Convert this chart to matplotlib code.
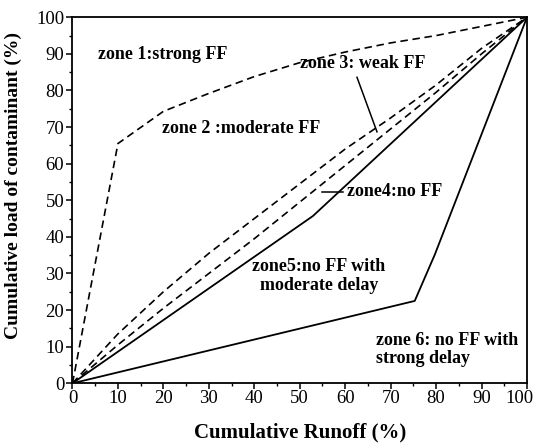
import matplotlib
matplotlib.use("Agg")
import matplotlib.pyplot as plt
from matplotlib.ticker import MultipleLocator
from matplotlib.transforms import ScaledTranslation

plt.rcParams['font.family'] = ['Liberation Serif', 'DejaVu Serif']

# Data
runoff = [0, 10, 20, 30, 40, 50, 60, 70, 80, 90, 100]
strong_ff = [0, 65.5, 74.3, 79.2, 83.8, 87.6, 90.5, 93, 95, 97.5, 100]
weak_ff_upper = [0, 13.5, 25, 35.5, 45, 54.5, 64, 72.5, 81.5, 91.5, 100]
weak_ff_lower = [0, 10.5, 20.5, 30, 39.5, 49.5, 59.5, 69.5, 79.5, 90, 100]
no_ff_x = [0, 52.9, 100]
no_ff_y = [0, 45.7, 100]
delay_x = [0, 75.3, 79.7, 100]
delay_y = [0, 22.5, 35.1, 100]

xticks = [0, 10, 20, 30, 40, 50, 60, 70, 80, 90, 100]
yticks = [0, 10, 20, 30, 40, 50, 60, 70, 80, 90, 100]

fig = plt.figure(figsize=(5.35, 4.43), dpi=100)
ax = fig.add_axes([0.1355, 0.1348, 0.9850 - 0.1355, 0.961 - 0.1348])

dash = (0, (4.5, 2.8))
lw = 1.2
ax.plot(runoff, strong_ff, color='black', lw=lw, linestyle=dash)
ax.plot(runoff, weak_ff_upper, color='black', lw=lw, linestyle=dash)
ax.plot(runoff, weak_ff_lower, color='black', lw=lw, linestyle=dash)
ax.plot(no_ff_x, no_ff_y, color='black', lw=1.3)
ax.plot(delay_x, delay_y, color='black', lw=1.3)

# annotation pointer lines
ax.plot([62.6, 67.0], [83.6, 68.7], color='black', lw=1.1)
ax.plot([54.8, 59.5], [52.3, 52.3], color='black', lw=1.1)

fs = 13
tk = dict(fontsize=fs, fontweight='bold', color='black')
ax.text(5.7, 89.7, 'zone 1:strong FF', ha='left', va='center', **tk)
ax.text(19.6, 69.7, 'zone 2 :moderate FF', ha='left', va='center', **tk)
ax.text(50.0, 87.4, 'zone 3: weak FF', ha='left', va='center', **tk)
ax.text(60.5, 52.3, 'zone4:no FF', ha='left', va='center', **tk)
ax.text(54.2, 29.3, 'zone5:no FF with\nmoderate delay', ha='center', va='center',
        linespacing=1.1, **tk)
ax.text(66.7, 9.2, 'zone 6: no FF with\nstrong delay', ha='left', va='center',
        linespacing=1.1, **tk)

ax.set_xlim(0, 100)
ax.set_ylim(0, 100)
ax.set_xticks(xticks)
ax.set_yticks(yticks)
ax.xaxis.set_minor_locator(MultipleLocator(5))
ax.yaxis.set_minor_locator(MultipleLocator(5))
ax.tick_params(which='major', direction='out', length=4, width=1.1, labelsize=13.5,
               top=False, right=False, pad=1.0)
ax.tick_params(axis='y', which='major', pad=2.0)
ax.tick_params(which='minor', direction='out', length=2.5, width=1.0, top=False, right=False)
for s in ax.spines.values():
    s.set_linewidth(1.3)

ax.set_xlabel('Cumulative Runoff (%)', fontsize=15, fontweight='bold', labelpad=11)
ax.set_ylabel('Cumulative load of contaminant (%)', fontsize=14, fontweight='bold')
ax.yaxis.set_label_coords(-0.111, 0.54)

fig.canvas.draw()
lab = ax.get_xticklabels()[-1]
lab.set_transform(lab.get_transform() + ScaledTranslation(-8 / 100, 0, fig.dpi_scale_trans))

fig.savefig('out.png', dpi=100)
